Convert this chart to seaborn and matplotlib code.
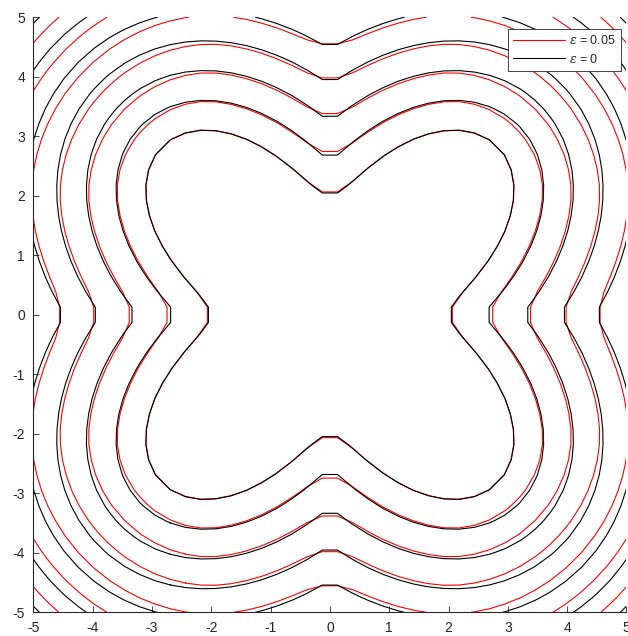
import numpy as np
import pandas as pd
import matplotlib
matplotlib.use("Agg")
import matplotlib.pyplot as plt
import seaborn as sns
import contourpy

# ---------------- data ----------------
grid_n = 40                      # samples per axis of the plotted grid
x_limits = [-5, 5]
y_limits = [-5, 5]
levels = [0.0, 0.5, 1.0, 1.5, 2.0, 2.5, 3.0]   # contour levels (front times)
eps_values = [0.05, 0.0]                        # curvature coefficient, F = 1 - eps*kappa
eps_labels = [r"$\epsilon$ = 0.05", r"$\epsilon$ = 0"]
line_colors = ["#ff0000", "#000000"]
shape_r0 = 2.0        # radius of the initial front on the axes
shape_lobe = 2.0      # extra radius on the diagonals
shape_power = 1.8     # lobe sharpness
corner_smooth = 0.1   # smoothing of the corners that the viscous front rounds off
t_end = 3.4
x_ticks = [-5, -4, -3, -2, -1, 0, 1, 2, 3, 4, 5]
y_ticks = [-5, -4, -3, -2, -1, 0, 1, 2, 3, 4, 5]

# ---------------- style ----------------
sns.set_theme(style="ticks")
plt.rcParams["font.family"] = ["Liberation Sans", "DejaVu Sans"]
plt.rcParams["mathtext.fontset"] = "dejavuserif"
plt.rcParams["axes.unicode_minus"] = False


def shape_radius(theta):
    return shape_r0 + shape_lobe * np.abs(np.sin(2 * theta)) ** shape_power


# boundary of the initial front, split in its four lobes
theta = np.linspace(0, 2 * np.pi, 2400, endpoint=False)
rb = shape_radius(theta)
bx, by = rb * np.cos(theta), rb * np.sin(theta)
quadrant = np.floor(theta / (np.pi / 2)).astype(int) % 4

h = (x_limits[1] - x_limits[0]) / (grid_n - 1)
pad = 8
xg = x_limits[0] + (np.arange(grid_n + 2 * pad) - pad) * h
XG, YG = np.meshgrid(xg, xg)
px, py = XG.ravel(), YG.ravel()
D = np.hypot(px[:, None] - bx[None, :], py[:, None] - by[None, :])
dk = np.stack([D[:, quadrant == k].min(axis=1) for k in range(4)], axis=1)
d0 = dk.min(axis=1)
inside = np.hypot(px, py) < shape_radius(np.arctan2(py, px))
ng = xg.size
phi0 = np.where(inside, -d0, d0).reshape(ng, ng)


def arrival_time(phi, eps):
    """Arrival time of the front moving with speed F = 1 - eps*kappa."""
    phi = phi.copy()
    T = np.full(phi.shape, 50.0)
    dt = 0.25 * h
    t = 0.0
    while t < t_end:
        P = np.pad(phi, 1, mode="edge")
        c = P[1:-1, 1:-1]
        dxm = (c - P[1:-1, :-2]) / h
        dxp = (P[1:-1, 2:] - c) / h
        dym = (c - P[:-2, 1:-1]) / h
        dyp = (P[2:, 1:-1] - c) / h
        grad = np.sqrt(np.maximum(dxm, 0) ** 2 + np.minimum(dxp, 0) ** 2 +
                       np.maximum(dym, 0) ** 2 + np.minimum(dyp, 0) ** 2)
        gx = 0.5 * (dxm + dxp)
        gy = 0.5 * (dym + dyp)
        gxx = (dxp - dxm) / h
        gyy = (dyp - dym) / h
        gxy = (P[2:, 2:] - P[2:, :-2] - P[:-2, 2:] + P[:-2, :-2]) / (4 * h * h)
        curv = (gxx * gy ** 2 - 2 * gx * gy * gxy + gyy * gx ** 2) / (gx ** 2 + gy ** 2 + 1e-12)
        new = phi - dt * grad + dt * eps * curv
        crossed = (phi > 0) & (new <= 0)
        T[crossed] = t + dt * phi[crossed] / (phi[crossed] - new[crossed])
        phi = new
        t += dt
    return T


core = (slice(pad, pad + grid_n),) * 2
xs = xg[pad:pad + grid_n]
rows = []
for eps, lab in zip(eps_values, eps_labels):
    if eps == 0:
        u = phi0                                  # entropy solution: distance
    else:
        T = arrival_time(phi0, eps)
        soft = d0 - corner_smooth * np.log(
            np.exp(-(dk - d0[:, None]) / corner_smooth).sum(axis=1))
        ramp = 1 - np.exp(-d0 / 0.25)
        u = T + (ramp * (soft - d0)).reshape(ng, ng)
        u = np.where(phi0 <= 0, phi0, u)
    gen = contourpy.contour_generator(xs, xs, u[core])
    for li, lev in enumerate(levels):
        for si, seg in enumerate(gen.lines(lev)):
            for pi, (xv, yv) in enumerate(seg):
                rows.append((xv, yv, lab, f"{lab}-{li}-{si}", pi))

df = pd.DataFrame(rows, columns=["x", "y", "eps", "seg", "order"])

# ---------------- figure ----------------
fig = plt.figure(figsize=(6.28, 6.36), dpi=100)
ax = fig.add_axes([0.053, 0.0373, 0.9446, 0.9355])

sns.lineplot(data=df, x="x", y="y", hue="eps", hue_order=eps_labels,
             palette=line_colors, units="seg", estimator=None, sort=False,
             linewidth=0.8, ax=ax)

ax.set_xlim(x_limits)
ax.set_ylim(y_limits)
ax.set_xticks(x_ticks)
ax.set_yticks(y_ticks)
ax.set_xlabel("")
ax.set_ylabel("")
for s in ["top", "right"]:
    ax.spines[s].set_visible(False)
for s in ["left", "bottom"]:
    ax.spines[s].set_color("#262626")
    ax.spines[s].set_linewidth(0.8)
ax.tick_params(direction="in", length=4, width=0.6, colors="#262626",
               labelsize=10, pad=6)

handles, labels = ax.get_legend_handles_labels()
leg = ax.legend(handles, labels, loc="upper right", bbox_to_anchor=(0.99, 0.98),
                borderaxespad=0, fontsize=9, handlelength=4.2, handletextpad=0.3,
                labelspacing=0.45, borderpad=0.4, fancybox=False, framealpha=1,
                edgecolor="#262626")
leg.get_frame().set_linewidth(0.6)

fig.savefig("out.png", dpi=100)
